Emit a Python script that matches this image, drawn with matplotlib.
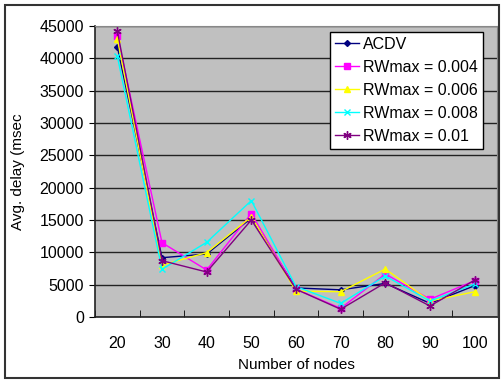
import matplotlib
matplotlib.use("Agg")
import matplotlib.pyplot as plt
from matplotlib.patches import Rectangle

nodes = [20, 30, 40, 50, 60, 70, 80, 90, 100]
acdv = [41800, 9170, 9740, 15300, 4500, 4200, 5200, 2110, 4840]
rw004 = [43500, 11490, 7270, 16000, 4300, 1340, 6650, 2740, 5610]
rw006 = [43000, 8040, 9950, 15500, 4000, 3910, 7420, 2470, 3910]
rw008 = [40300, 7370, 11550, 18000, 4700, 2110, 6340, 2470, 5100]
rw01 = [44200, 8710, 6960, 15000, 4300, 1200, 5300, 1700, 5700]
labels = ["ACDV", "RWmax = 0.004", "RWmax = 0.006", "RWmax = 0.008", "RWmax = 0.01"]
yticks = [0, 5000, 10000, 15000, 20000, 25000, 30000, 35000, 40000, 45000]

plt.rcParams['font.family'] = ['Liberation Sans', 'DejaVu Sans']

fig = plt.figure(figsize=(5.01, 3.8), dpi=100)
fig.patches.append(Rectangle((5/501, 2/380), 494/501, 373/380, transform=fig.transFigure,
                             fill=False, edgecolor='#333333', linewidth=1.5))
ax = fig.add_axes([95/501, 63/380, 402/501, 291/380])
ax.set_facecolor('#c0c0c0')

xs = list(range(len(nodes)))
styles = [
    dict(color='#000080', marker='D', markersize=3),
    dict(color='#ff00ff', marker='s', markersize=5),
    dict(color='#ffff00', marker='^', markersize=5),
    dict(color='#00ffff', marker='x', markersize=5, markeredgewidth=1),
    dict(color='#800080', marker=(6, 2, 0), markersize=6, markeredgewidth=1),
]
for data, lab, st in zip([acdv, rw004, rw006, rw008, rw01], labels, styles):
    ax.plot(xs, data, linewidth=1, label=lab, **st)

ax.set_xlim(-0.5, len(nodes) - 0.5)
ax.set_ylim(0, 45000)
ax.set_yticks(yticks)
ax.set_yticklabels([str(v) for v in yticks], fontsize=11.5)
ax.set_xticks(xs)
ax.set_xticklabels([str(n) for n in nodes], fontsize=11.5)
ax.tick_params(axis='x', length=0, pad=14)
ax.set_xticks([i - 0.5 for i in range(len(nodes) + 1)], minor=True)
ax.tick_params(axis='x', which='minor', length=5, direction='in')
ax.tick_params(axis='y', length=4, direction='out', pad=4)
ax.grid(axis='y', color='#222222', linewidth=1)
ax.set_axisbelow(True)
for s in ['top', 'right']:
    ax.spines[s].set_color('#888888')
for s in ['left', 'bottom']:
    ax.spines[s].set_color('#222222')
    ax.spines[s].set_linewidth(1.2)

ax.set_xlabel("Number of nodes", fontsize=11, labelpad=5)
ax.set_ylabel("Avg. delay (msec", fontsize=11, labelpad=10)

leg = ax.legend(loc='upper right', bbox_to_anchor=(483/501, 348/380), bbox_transform=fig.transFigure,
                fontsize=11.5, frameon=True, fancybox=False, framealpha=1, edgecolor='black',
                handlelength=1.5, borderpad=0.3, labelspacing=0.5, handletextpad=0.3,
                borderaxespad=0)
leg.get_frame().set_linewidth(1)

fig.savefig("out.png", dpi=100)
